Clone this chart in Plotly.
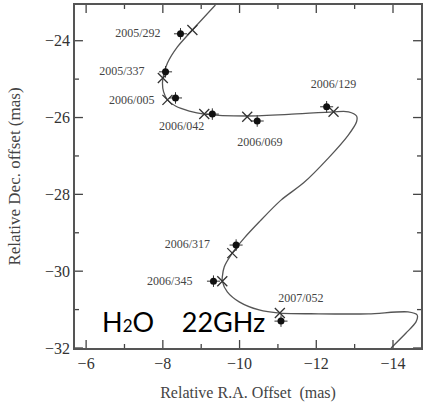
import plotly.graph_objects as go

# Observed maser positions (filled dots with error bars)
epochs = ["2005/292", "2005/337", "2006/005", "2006/042", "2006/069",
          "2006/129", "2006/317", "2006/345", "2007/052"]
obs_ra = [-8.46, -8.07, -8.33, -9.29, -10.46, -12.27, -9.91, -9.32, -11.08]
obs_dec = [-23.82, -24.81, -25.49, -25.91, -26.09, -25.72, -29.32, -30.26, -31.30]
err_ra = [0.17] * 9
err_dec = [0.15] * 9

# Model positions at each epoch (crosses)
mod_ra = [-8.77, -8.00, -8.12, -9.08, -10.20, -12.45, -9.81, -9.55, -11.05]
mod_dec = [-23.72, -24.97, -25.54, -25.91, -25.98, -25.85, -29.53, -30.26, -31.09]

# Label positions
lab_ra = [-7.35, -6.93, -7.19, -8.49, -10.53, -12.45, -8.64, -8.18, -11.60]
lab_dec = [-23.82, -24.81, -25.57, -26.24, -26.66, -25.15, -29.32, -30.28, -30.72]

# Fitted parallax + proper motion track
curve_ra = [-9.37, -8.77, -8.38, -8.12, -8.02, -7.99, -8.02, -8.12, -8.33, -8.69,
            -9.08, -10.20, -11.28, -12.45, -12.84, -13.05, -13.05, -12.84, -12.32,
            -11.67, -11.08, -10.51, -10.12, -9.81, -9.60, -9.55, -9.55, -9.68,
            -9.99, -10.51, -11.05, -12.06, -13.36, -14.39, -14.63, -14.60, -14.34,
            -13.95]
curve_dec = [-23.07, -23.72, -24.16, -24.58, -24.89, -25.10, -25.33, -25.54, -25.70,
             -25.83, -25.91, -25.96, -25.92, -25.85, -25.85, -25.96, -26.11, -26.45,
             -27.05, -27.70, -28.15, -28.72, -29.14, -29.53, -29.89, -30.15, -30.26,
             -30.54, -30.80, -31.01, -31.09, -31.11, -31.11, -31.06, -31.14, -31.32,
             -31.61, -32.00]

# Tick values
x_major = [-6, -8, -10, -12, -14]
x_minor = [-7, -9, -11, -13]
y_major = [-24, -26, -28, -30, -32]
y_minor = [-23, -25, -27, -29, -31]

x_range = [-5.71, -14.73]
y_range = [-32.0, -23.07]

W, H = 423, 403
ML, MR, MT, MB = 75, 0, 5, 55
plot_w = W - ML - MR
plot_h = H - MT - MB

serif = "Liberation Serif, DejaVu Serif, serif"

fig = go.Figure()
fig.add_trace(go.Scatter(
    x=curve_ra, y=curve_dec, mode="lines",
    line=dict(color="#555555", width=1.3, shape="spline", smoothing=0.8),
    hoverinfo="skip", showlegend=False))
fig.add_trace(go.Scatter(
    x=mod_ra, y=mod_dec, mode="markers",
    marker=dict(symbol="x-thin-open", size=10, color="#333333",
                line=dict(color="#333333", width=1.3)),
    showlegend=False))
fig.add_trace(go.Scatter(
    x=obs_ra, y=obs_dec, mode="markers",
    marker=dict(symbol="circle", size=7, color="#111111"),
    error_x=dict(type="data", array=err_ra, color="#333333", thickness=1, width=0),
    error_y=dict(type="data", array=err_dec, color="#333333", thickness=1, width=0),
    showlegend=False))
fig.add_trace(go.Scatter(
    x=lab_ra, y=lab_dec, mode="text", text=epochs,
    textfont=dict(family=serif, size=12, color="#444444"),
    textposition="middle center", hoverinfo="skip", showlegend=False))

fig.add_annotation(
    xref="paper", yref="paper", x=0.072, y=0.078, xanchor="left", yanchor="middle",
    text="H<span style='font-size:17px'>2</span>O&nbsp;&nbsp;&nbsp;&nbsp;22GHz",
    showarrow=False, font=dict(family="Lato, Open Sans, sans-serif", size=27, color="#000000"))

# Inward tick marks on all four sides, placed at the tick values via the axes
tick_line = dict(color="#444444", width=1.3)
for vals, length in ((x_major, 8), (x_minor, 4)):
    frac = length / plot_h
    for v in vals:
        fig.add_shape(type="line", xref="x", yref="paper", x0=v, x1=v, y0=0, y1=frac,
                      line=tick_line, layer="above")
        fig.add_shape(type="line", xref="x", yref="paper", x0=v, x1=v, y0=1, y1=1 - frac,
                      line=tick_line, layer="above")
for vals, length in ((y_major, 8), (y_minor, 4)):
    frac = length / plot_w
    for v in vals:
        fig.add_shape(type="line", xref="paper", yref="y", y0=v, y1=v, x0=0, x1=frac,
                      line=tick_line, layer="above")
        fig.add_shape(type="line", xref="paper", yref="y", y0=v, y1=v, x0=1, x1=1 - frac,
                      line=tick_line, layer="above")

tickfont = dict(family=serif, size=16, color="#333333")

fig.update_layout(
    width=W, height=H,
    margin=dict(l=ML, r=MR, t=MT, b=MB),
    paper_bgcolor="white", plot_bgcolor="white",
    xaxis=dict(range=x_range, tickmode="array", tickvals=x_major, ticks="",
               showline=True, linecolor="#555555", linewidth=1.5, mirror=True,
               showgrid=False, zeroline=False, tickfont=tickfont,
               title=dict(text="Relative R.A. Offset&nbsp;&nbsp;(mas)",
                          font=dict(family=serif, size=16, color="#444444"),
                          standoff=16)),
    yaxis=dict(range=y_range, tickmode="array", tickvals=y_major, ticks="",
               showline=True, linecolor="#555555", linewidth=1.5, mirror=True,
               showgrid=False, zeroline=False, tickfont=tickfont,
               title=dict(text="Relative Dec. offset (mas)",
                          font=dict(family=serif, size=17, color="#444444"),
                          standoff=20)),
)

fig.write_html("out.html")
